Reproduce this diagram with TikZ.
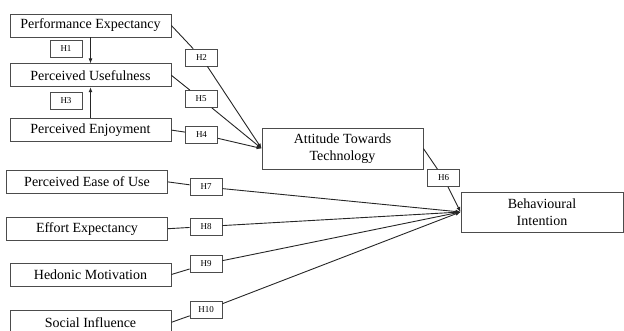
\documentclass[tikz,border=0pt]{standalone}
\usepackage{fontspec}
\setmainfont{Liberation Serif}
\usepackage{xcolor}
\usepackage{tikz}
\usetikzlibrary{shapes,arrows.meta,positioning}

\begin{document}
\begin{tikzpicture}[
    x=1pt, y=-1pt,
    node distance=26pt,
    construct/.style={rectangle, draw=black!70, line width=0.8pt, fill=white, minimum width=161pt, minimum height=23pt, inner sep=1pt, font=\fontsize{14}{16.5}\selectfont},
    hyp/.style={rectangle, draw=black!70, line width=0.7pt, fill=white, minimum width=32pt, minimum height=17pt, inner sep=1pt, font=\fontsize{9}{10}\selectfont},
    link/.style={draw=black!85, line width=0.9pt, -{Latex[length=5pt,width=4pt]}}
]
\useasboundingbox (0,0) rectangle (624,330);
\node[construct] (pe) at (90.5,25.5) {Performance Expectancy};
\node[construct, below=of pe] (pu) {Perceived Usefulness};
\node[construct, below=31pt of pu] (penj) {Perceived Enjoyment};
\node[construct, below=28pt of penj, xshift=-3.5pt] (peou) {Perceived Ease of Use};
\node[construct, below=23pt of peou] (ee) {Effort Expectancy};
\node[construct, below=22pt of ee, xshift=3.5pt] (hm) {Hedonic Motivation};
\node[construct, below=24pt of hm] (si) {Social Influence};
\node[construct, minimum height=41pt, align=center] (att) at (342.5,148.5) {Attitude Towards\\Technology};
\node[construct, minimum width=162pt, minimum height=40pt, align=center] (bi) at (542,212) {Behavioural\\Intention};

\node[hyp] (h1) at (66,49) {H1};
\node[hyp] (h3) at (66,100.5) {H3};
\node[hyp] (h2) at (201.5,57.5) {H2};
\node[hyp] (h5) at (201,99) {H5};
\node[hyp] (h4) at (201.5,134.5) {H4};
\node[hyp] (h6) at (443.5,178) {H6};
\node[hyp] (h7) at (206,187) {H7};
\node[hyp] (h8) at (206,226.5) {H8};
\node[hyp] (h9) at (206,264) {H9};
\node[hyp] (h10) at (206,310) {H10};

\draw[link] (pe) -- (pu);
\draw[link] (penj) -- (pu);
\draw[link] (pe.east) -- (h2) -- (att.west);
\draw[link] (pu.east) -- (h5) -- (att.west);
\draw[link] (penj.east) -- (h4) -- (att.west);
\draw[link] (att.east) -- (h6) -- (bi.west);
\draw[link] (peou.east) -- (h7) -- (bi.west);
\draw[link] (ee.east) -- (h8) -- (bi.west);
\draw[link] (hm.east) -- (h9) -- (bi.west);
\draw[link] (si.east) -- (h10) -- (bi.west);
\end{tikzpicture}
\end{document}
